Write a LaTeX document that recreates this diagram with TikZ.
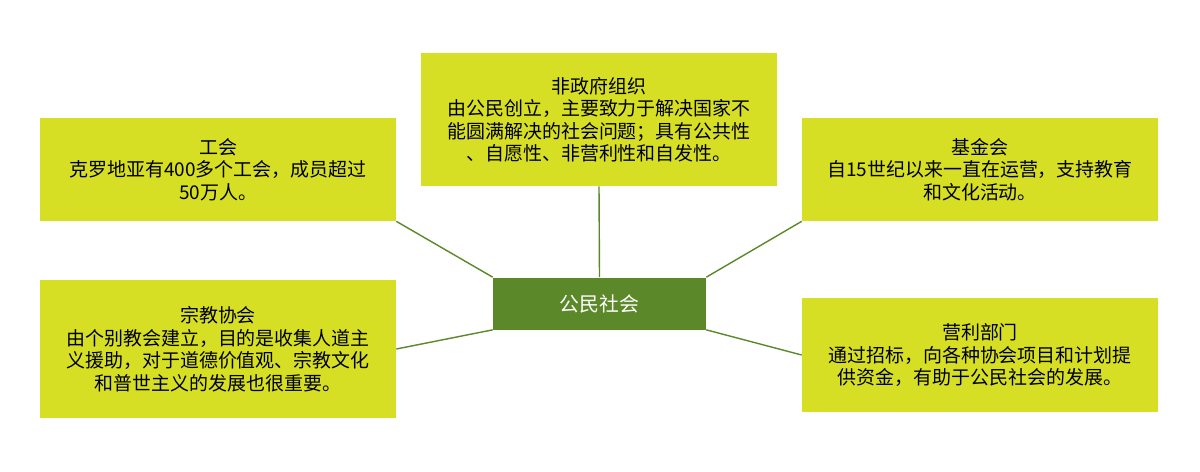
\documentclass[tikz,border=0pt]{standalone}
\usepackage{fontspec}
\usepackage{xcolor}
\newfontfamily\cjk{Noto Sans CJK SC}
\definecolor{leafyellow}{HTML}{D6DF23}
\definecolor{hubgreen}{HTML}{5B8829}
\tikzset{
	leaf/.style={fill=leafyellow, text=black, align=center, inner sep=0pt,
		minimum width=7.12cm, font=\cjk\fontsize{10.8}{12.8}\selectfont},
	hub/.style={fill=hubgreen, text=white, align=center, inner sep=0pt,
		minimum width=4.26cm, minimum height=1.04cm, font=\cjk\fontsize{11.3}{13}\selectfont},
	link/.style={draw=hubgreen, line width=0.8pt},
}
\begin{document}
\begin{tikzpicture}[x=0.02cm, y=-0.02cm]
	\useasboundingbox (0,0) rectangle (1200,471);
	\node[hub] (hub) at (599.5,303.5) {公民社会};
	\node[leaf, minimum height=2.66cm] (ngo) at (599,119.5) {非政府组织\\由公民创立，主要致力于解决国家不\\能圆满解决的社会问题；具有公共性\\、自愿性、非营利性和自发性。};
	\node[leaf, minimum height=2.06cm] (union) at (218,169.5) {工会\\克罗地亚有400多个工会，成员超过\\50万人。};
	\node[leaf, minimum height=2.06cm] (fund) at (980,169.5) {基金会\\自15世纪以来一直在运营，支持教育\\和文化活动。};
	\node[leaf, minimum height=2.76cm] (church) at (218,349) {宗教协会\\由个别教会建立，目的是收集人道主\\义援助，对于道德价值观、宗教文化\\和普世主义的发展也很重要。};
	\node[leaf, minimum height=2.3cm] (profit) at (980,355) {营利部门\\通过招标，向各种协会项目和计划提\\供资金，有助于公民社会的发展。};
	\draw[link] (ngo.south) -- (hub.north);
	\draw[link] (union.south east) -- (hub.north west);
	\draw[link] (fund.south west) -- (hub.north east);
	\draw[link] (church.east) -- (hub.south west);
	\draw[link] (profit.west) -- (hub.south east);
\end{tikzpicture}
\end{document}
